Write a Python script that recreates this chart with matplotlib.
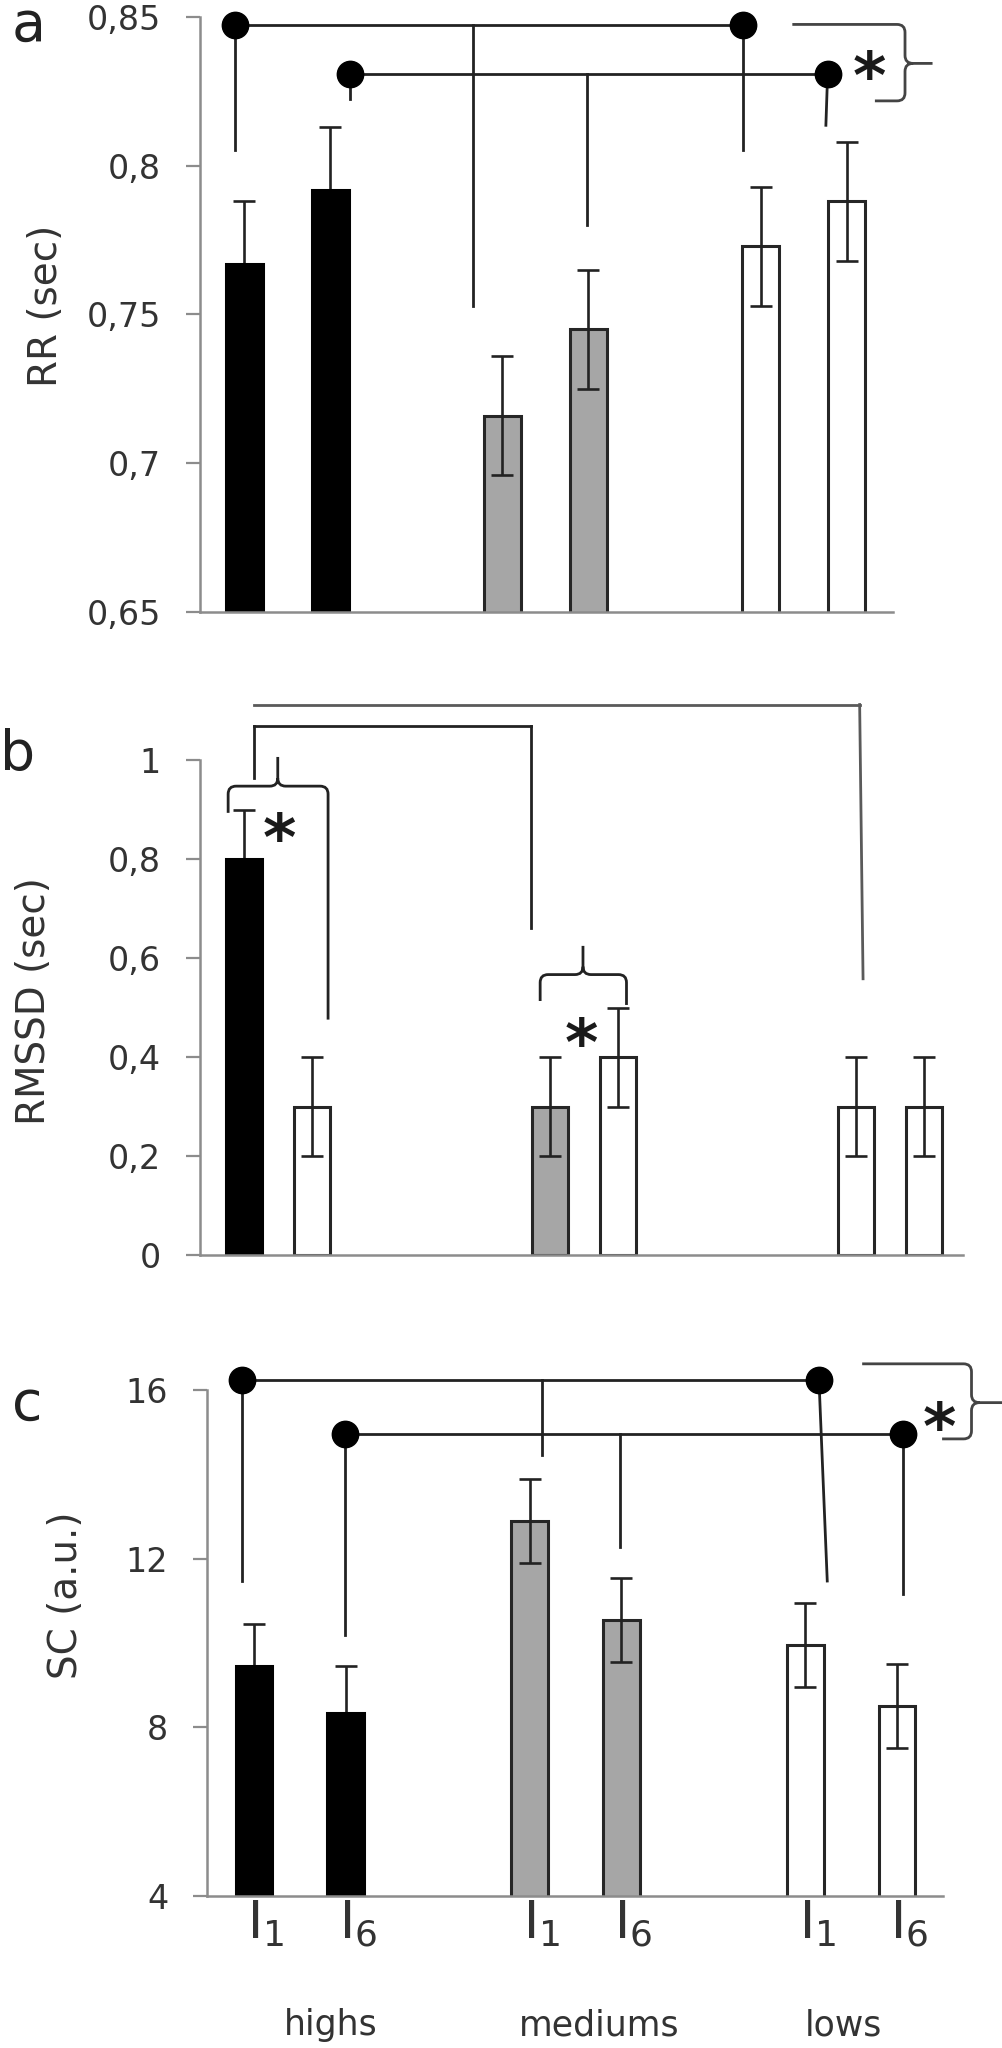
import matplotlib
matplotlib.use('Agg')
import matplotlib.pyplot as plt
from matplotlib.path import Path
from matplotlib.patches import PathPatch
from matplotlib.transforms import IdentityTransform, ScaledTranslation, blended_transform_factory

plt.rcParams['font.family'] = ['DejaVu Sans']

# ---- data ----
# panel a: RR (sec)
a_pos = [0, 1, 3, 4, 6, 7]
a_val = [0.767, 0.792, 0.716, 0.745, 0.773, 0.788]
a_err = [0.021, 0.021, 0.020, 0.020, 0.020, 0.020]
a_kind = ['k', 'k', 'g', 'g', 'w', 'w']
a_ticks = [0.65, 0.7, 0.75, 0.8, 0.85]
a_ticklabels = ['0,65', '0,7', '0,75', '0,8', '0,85']

# panel b: RMSSD (sec)
b_pos = [0, 1, 4.5, 5.5, 9, 10]
b_val = [0.8, 0.3, 0.3, 0.4, 0.3, 0.3]
b_err = [0.1, 0.1, 0.1, 0.1, 0.1, 0.1]
b_kind = ['k', 'w', 'g', 'w', 'w', 'w']
b_ticks = [0, 0.2, 0.4, 0.6, 0.8, 1.0]
b_ticklabels = ['0', '0,2', '0,4', '0,6', '0,8', '1']

# panel c: SC (a.u.)
c_pos = [0, 1, 3, 4, 6, 7]
c_val = [9.45, 8.35, 12.9, 10.55, 9.95, 8.5]
c_err = [1.0, 1.1, 1.0, 1.0, 1.0, 1.0]
c_kind = ['k', 'k', 'g', 'g', 'w', 'w']
c_ticks = [4, 8, 12, 16]
c_ticklabels = ['4', '8', '12', '16']
c_xlabels = ['I$_1$', 'I$_6$', 'I$_1$', 'I$_6$', 'I$_1$', 'I$_6$']
groups = ['highs', 'mediums', 'lows']
group_x = [0.84, 3.76, 6.42]

# significance bridges: (y, x_left, x_right, drops [(x_top, x_bottom, y_bottom)])
a_bridges = [
    (0.8472, -0.11, 5.80, [(-0.11, -0.11, 0.8054), (2.66, 2.66, 0.7527), (5.80, 5.80, 0.8054)]),
    (0.8307, 1.23, 6.78, [(1.23, 1.23, 0.8225), (3.98, 3.98, 0.780), (6.78, 6.76, 0.8136)]),
]
c_bridges = [
    (16.23, -0.13, 6.15, [(-0.13, -0.13, 11.47), (3.14, 3.14, 14.45), (6.15, 6.24, 11.47)]),
    (14.95, 0.99, 7.06, [(0.99, 0.99, 10.19), (3.98, 3.98, 12.28), (7.06, 7.06, 11.17)]),
]
b_bridges = [
    (1.069, 0.14, 4.21, [(0.14, 0.14, 0.9646), (4.21, 4.21, 0.6617)]),
]
b_grey_bridge = (1.113, 0.14, 9.05, [(9.05, 9.10, 0.5585)])

FILL = {'k': ('black', 'black'), 'g': ('#a6a6a6', '#262626'), 'w': ('white', '#262626')}
AXIS_GREY = '#8c8c8c'
INK = '#222222'

fig = plt.figure(figsize=(10.03, 20.48), dpi=100)
ax_a = fig.add_axes([0.1994, 0.7012, 0.6909, 0.2905])
ax_b = fig.add_axes([0.1994, 0.3872, 0.7607, 0.2415])
ax_c = fig.add_axes([0.2064, 0.0742, 0.7338, 0.2471])


def draw_panel(ax, pos, val, err, kind, width, ylim, xlim, ticks, ticklabels):
    for p, v, e, k in zip(pos, val, err, kind):
        fc, ec = FILL[k]
        ax.bar(p, v, width=width, color=fc, edgecolor=ec, linewidth=2.2, zorder=2)
        # error bars sit behind the black bars, so only the upper half shows there
        ax.errorbar([p], [v], yerr=[e], fmt='none', ecolor=INK, elinewidth=1.9,
                    capsize=8, capthick=1.9, zorder=1 if k == 'k' else 3)
    ax.set_ylim(*ylim)
    ax.set_xlim(*xlim)
    ax.set_yticks(ticks)
    ax.set_yticklabels(ticklabels)
    for s in ['top', 'right']:
        ax.spines[s].set_visible(False)
    for s in ['left', 'bottom']:
        ax.spines[s].set_color(AXIS_GREY)
        ax.spines[s].set_linewidth(1.8)
    ax.tick_params(axis='y', direction='out', length=10, width=1.6, color=AXIS_GREY,
                   labelsize=24, labelcolor='#333333', pad=18)
    ax.tick_params(axis='x', length=0)
    ax.set_xticks([])


def draw_bridge(ax, bridge, dots, color=INK, lw=2.0):
    y, x0, x1, drops = bridge
    ax.plot([x0, x1], [y, y], color=color, lw=lw, clip_on=False, zorder=4)
    for xt, xb, yb in drops:
        ax.plot([xt, xb], [y, yb], color=color, lw=lw, clip_on=False, zorder=4)
    if dots:
        ax.plot([x0, x1], [y, y], 'o', color='black', ms=19, clip_on=False, zorder=5)


def brace_right(ax, x_top, y_top, x_bot, y_bot, x_b, y_mid, x_tip, r=8, color='#444444', lw=2.0):
    T = ax.transData
    xt, yt = T.transform((x_top, y_top))
    xbo, yb = T.transform((x_bot, y_bot))
    xb, ym = T.transform((x_b, y_mid))
    xtip, _ = T.transform((x_tip, y_mid))
    verts = [(xt, yt), (xb - r, yt), (xb, yt), (xb, yt - r), (xb, ym + r),
             (xb, ym), (xb + r, ym), (xtip, ym),
             (xb + r, ym), (xb, ym), (xb, ym - r), (xb, yb + r),
             (xb, yb), (xb - r, yb), (xbo, yb)]
    codes = [Path.MOVETO, Path.LINETO, Path.CURVE3, Path.CURVE3, Path.LINETO,
             Path.CURVE3, Path.CURVE3, Path.LINETO,
             Path.MOVETO, Path.CURVE3, Path.CURVE3, Path.LINETO,
             Path.CURVE3, Path.CURVE3, Path.LINETO]
    fig.add_artist(PathPatch(Path(verts, codes), fill=False, edgecolor=color, lw=lw,
                             transform=IdentityTransform()))


def brace_up(ax, xl, xr, xm, y, y_tip, yl_end, yr_end, r=8, color=INK, lw=2.0):
    T = ax.transData
    xl_, yb = T.transform((xl, y))
    xr_, _ = T.transform((xr, y))
    xm_, ytip = T.transform((xm, y_tip))
    _, yle = T.transform((xl, yl_end))
    _, yre = T.transform((xr, yr_end))
    verts = [(xl_, yle), (xl_, yb - r), (xl_, yb), (xl_ + r, yb), (xm_ - r, yb),
             (xm_, yb), (xm_, yb + r), (xm_, ytip),
             (xm_, yb + r), (xm_, yb), (xm_ + r, yb), (xr_ - r, yb),
             (xr_, yb), (xr_, yb - r), (xr_, yre)]
    codes = [Path.MOVETO, Path.LINETO, Path.CURVE3, Path.CURVE3, Path.LINETO,
             Path.CURVE3, Path.CURVE3, Path.LINETO,
             Path.MOVETO, Path.CURVE3, Path.CURVE3, Path.LINETO,
             Path.CURVE3, Path.CURVE3, Path.LINETO]
    fig.add_artist(PathPatch(Path(verts, codes), fill=False, edgecolor=color, lw=lw,
                             transform=IdentityTransform()))


def star(ax, x, y, fs=46):
    off = ScaledTranslation(0, -0.58 * fs / 72, fig.dpi_scale_trans)
    ax.text(x, y, '*', fontsize=fs, fontweight='bold', ha='center', va='baseline',
            color='#1a1a1a', transform=ax.transData + off, clip_on=False, zorder=6)


# ---- panel a ----
draw_panel(ax_a, a_pos, a_val, a_err, a_kind, 0.42, (0.65, 0.85), (-0.517, 7.54),
           a_ticks, a_ticklabels)
ax_a.set_ylabel('RR (sec)', fontsize=28, color='#333333')
ax_a.yaxis.label.set_va('center')
ax_a.yaxis.set_label_coords(-0.222, 0.514)
for br in a_bridges:
    draw_bridge(ax_a, br, dots=True)
brace_right(ax_a, 6.37, 0.8475, 7.33, 0.8218, 7.68, 0.8344, 8.0)
star(ax_a, 7.27, 0.8353)

# ---- panel b ----
draw_panel(ax_b, b_pos, b_val, b_err, b_kind, 0.53, (0, 1), (-0.654, 10.57),
           b_ticks, b_ticklabels)
ax_b.set_ylabel('RMSSD (sec)', fontsize=28, color='#333333')
ax_b.yaxis.label.set_va('center')
ax_b.yaxis.set_label_coords(-0.2176, 0.514)
draw_bridge(ax_b, b_grey_bridge, dots=False, color='#5a5a5a')
for br in b_bridges:
    draw_bridge(ax_b, br, dots=False)
brace_up(ax_b, -0.24, 1.23, 0.49, 0.948, 1.007, 0.894, 0.476)
brace_up(ax_b, 4.35, 5.62, 4.98, 0.567, 0.625, 0.5136, 0.5056)
star(ax_b, 0.52, 0.874)
star(ax_b, 4.96, 0.4595)

# ---- panel c ----
draw_panel(ax_c, c_pos, c_val, c_err, c_kind, 0.40, (4, 16), (-0.511, 7.50),
           c_ticks, c_ticklabels)
ax_c.set_ylabel('SC (a.u.)', fontsize=28, color='#333333')
ax_c.yaxis.label.set_va('center')
ax_c.yaxis.set_label_coords(-0.191, 0.595)
ax_c.set_xticks(c_pos)
ax_c.set_xticklabels(c_xlabels, fontsize=37, color='#333333')
ax_c.tick_params(axis='x', pad=2)
for lab in ax_c.get_xticklabels():
    lab.set_transform(lab.get_transform() + ScaledTranslation(0.12, 0, fig.dpi_scale_trans))
for br in c_bridges:
    draw_bridge(ax_c, br, dots=True)
brace_right(ax_c, 6.62, 16.62, 7.49, 14.84, 7.81, 15.7, 8.15)
star(ax_c, 7.46, 15.48)
trans = blended_transform_factory(ax_c.transData, ax_c.transAxes)
for name, gx in zip(groups, group_x):
    ax_c.text(gx, -0.275, name, fontsize=25, ha='center', va='baseline',
              color='#333333', transform=trans)

# panel letters
fig.text(0.012, 0.980, 'a', fontsize=40, color='#222222')
fig.text(0.000, 0.624, 'b', fontsize=40, color='#222222')
fig.text(0.012, 0.3066, 'c', fontsize=40, color='#222222')

fig.savefig('out.png', dpi=100)
